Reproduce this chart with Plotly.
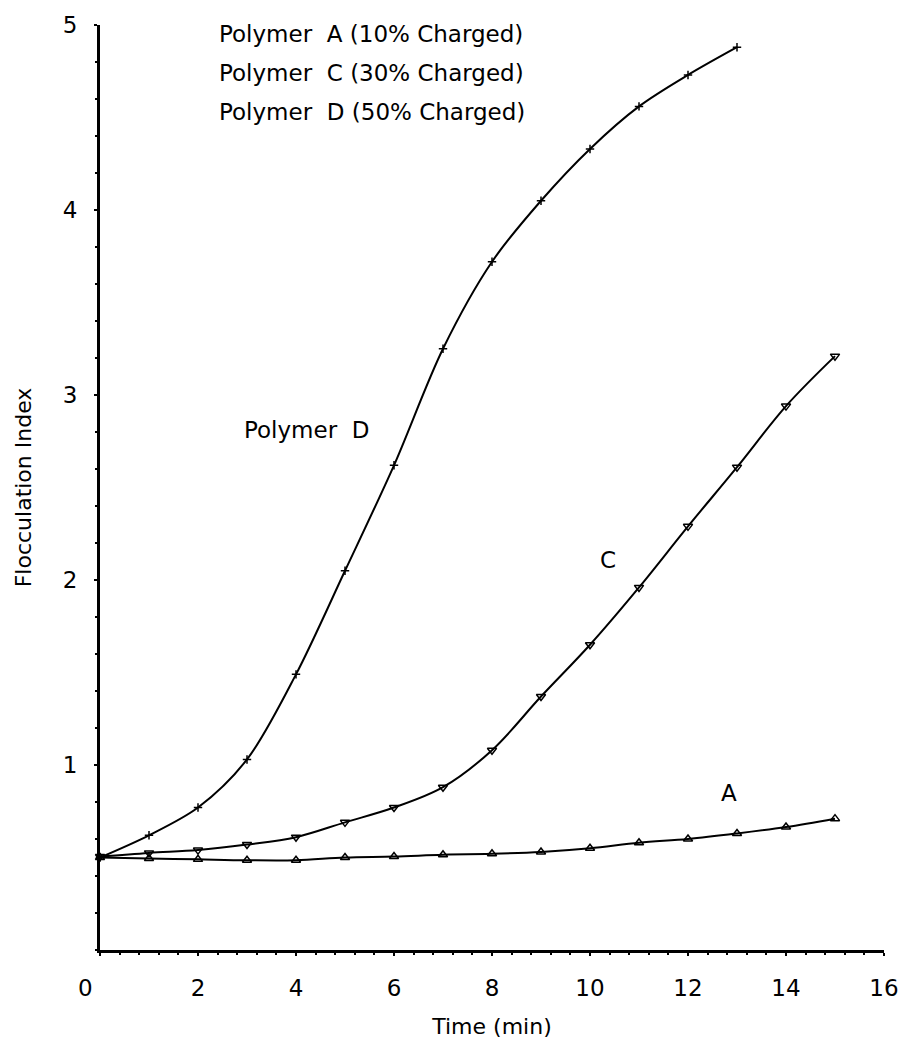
import plotly.graph_objects as go

# ---- data ----
time_a = list(range(0, 16))
polymer_a = [0.50, 0.495, 0.49, 0.485, 0.485, 0.50, 0.505, 0.515, 0.52, 0.53,
             0.55, 0.58, 0.60, 0.63, 0.665, 0.71]

time_c = list(range(0, 16))
polymer_c = [0.505, 0.525, 0.54, 0.57, 0.61, 0.69, 0.77, 0.88, 1.08, 1.37,
             1.65, 1.96, 2.29, 2.61, 2.94, 3.21]

time_d = list(range(0, 14))
polymer_d = [0.50, 0.62, 0.77, 1.03, 1.49, 2.05, 2.62, 3.25, 3.72, 4.05,
             4.33, 4.56, 4.73, 4.88]

x_ticks = [0, 2, 4, 6, 8, 10, 12, 14, 16]
x_ticktext = ["0\u00a0\u00a0\u00a0\u00a0", "2", "4", "6", "8", "10", "12", "14", "16"]
y_ticks = [1, 2, 3, 4, 5]
y_ticktext = ["1", "2", "3", "4", "5"]

legend_lines = ["Polymer  A (10% Charged)",
                "Polymer  C (30% Charged)",
                "Polymer  D (50% Charged)"]
legend_y = [4.95, 4.74, 4.53]

FONT = "DejaVu Sans"

fig = go.Figure()
fig.add_trace(go.Scatter(x=time_d, y=polymer_d, mode="lines+markers",
                         line=dict(color="black", width=2, shape="spline", smoothing=0.9),
                         marker=dict(symbol="cross-thin-open", size=6,
                                     line=dict(color="black", width=1.5)),
                         cliponaxis=False, showlegend=False))
fig.add_trace(go.Scatter(x=time_c, y=polymer_c, mode="lines+markers",
                         line=dict(color="black", width=2, shape="spline"),
                         marker=dict(symbol="triangle-down-open", size=8,
                                     color="black", line=dict(color="black", width=1.5)),
                         cliponaxis=False, showlegend=False))
fig.add_trace(go.Scatter(x=time_a, y=polymer_a, mode="lines+markers",
                         line=dict(color="black", width=2, shape="spline"),
                         marker=dict(symbol="triangle-up-open", size=8,
                                     color="black", line=dict(color="black", width=1.5)),
                         cliponaxis=False, showlegend=False))

annotations = []
for txt, yy in zip(legend_lines, legend_y):
    annotations.append(dict(x=2.39, y=yy, text=txt, showarrow=False,
                            xanchor="left", yanchor="middle",
                            font=dict(family=FONT, size=23, color="black")))
annotations += [
    dict(x=4.21, y=2.81, text="Polymer  D", showarrow=False,
         font=dict(family=FONT, size=23, color="black")),
    dict(x=10.36, y=2.11, text="C", showarrow=False,
         font=dict(family=FONT, size=23, color="black")),
    dict(x=12.84, y=0.85, text="A", showarrow=False,
         font=dict(family=FONT, size=23, color="black")),
]

fig.update_layout(
    width=911, height=1048,
    margin=dict(l=100, r=20, t=20, b=97),
    paper_bgcolor="white", plot_bgcolor="white",
    font=dict(family=FONT, size=20, color="black"),
    annotations=annotations,
    xaxis=dict(range=[0, 16], tickvals=x_ticks, ticktext=x_ticktext,
               showgrid=False, zeroline=False,
               showline=True, linecolor="black", linewidth=3,
               ticks="outside", ticklen=3, tickwidth=2, tickcolor="black",
               ticklabelstandoff=12,
               minor=dict(dtick=0.4, tick0=0, ticks="outside", ticklen=2,
                          tickwidth=2, tickcolor="black"),
               tickfont=dict(family=FONT, size=23),
               title=dict(text="Time (min)", standoff=20,
                          font=dict(family=FONT, size=22))),
    yaxis=dict(range=[0, 5], tickvals=y_ticks, ticktext=y_ticktext,
               showgrid=False, zeroline=False,
               showline=True, linecolor="black", linewidth=3,
               ticks="outside", ticklen=3, tickwidth=2, tickcolor="black",
               ticklabelstandoff=12,
               minor=dict(dtick=0.2, tick0=0, ticks="outside", ticklen=2,
                          tickwidth=2, tickcolor="black"),
               tickfont=dict(family=FONT, size=23),
               title=dict(text="Flocculation Index", standoff=26,
                          font=dict(family=FONT, size=22))),
)

fig.write_html("out.html")
